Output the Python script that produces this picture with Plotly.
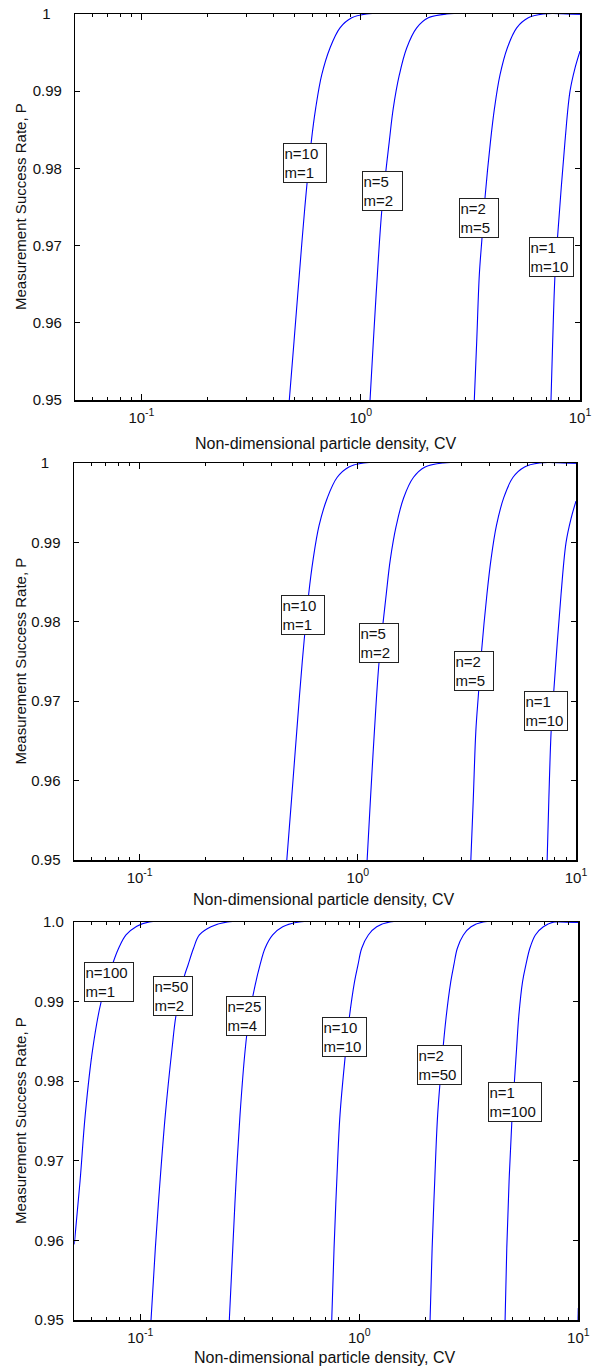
import math
import plotly.graph_objects as go

# ---------------- data ----------------
# Panels 1 and 2: n*m = 10
labels_10 = ["n=10<br>m=1", "n=5<br>m=2", "n=2<br>m=5", "n=1<br>m=10"]

cv_n10_m1 = [0.4725, 0.4966, 0.5248, 0.5560, 0.5953, 0.6234, 0.664, 0.7245, 0.8045, 0.910, 1.065, 10.0]
p_n10_m1 = [0.95, 0.9576, 0.9662, 0.9749, 0.9835, 0.9878, 0.9921, 0.9956, 0.9982, 0.9995, 1.0, 1.0]

cv_n5_m2 = [1.103, 1.142, 1.191, 1.251, 1.350, 1.408, 1.500, 1.621, 1.800, 2.034, 2.466, 10.0]
p_n5_m2 = [0.95, 0.9576, 0.9662, 0.9749, 0.9835, 0.9878, 0.9921, 0.9956, 0.9982, 0.9995, 1.0, 1.0]

cv_n2_m5 = [3.296, 3.381, 3.474, 3.574, 3.688, 3.907, 4.075, 4.317, 4.661, 5.145, 5.810, 6.802, 10.0]
p_n2_m5 = [0.95, 0.9576, 0.9662, 0.971, 0.9762, 0.9835, 0.9878, 0.9921, 0.9956, 0.9982, 0.9995, 1.0, 1.0]

cv_n1_m10 = [7.375, 7.507, 7.691, 7.896, 8.542, 9.004, 9.489, 10.0]
p_n1_m10 = [0.95, 0.9576, 0.9662, 0.971, 0.9835, 0.99, 0.993, 0.9952]

# Panel 3: n*m = 100
labels_100 = ["n=100<br>m=1", "n=50<br>m=2", "n=25<br>m=4", "n=10<br>m=10", "n=2<br>m=50", "n=1<br>m=100"]

cv_n100_m1 = [0.05, 0.0531, 0.0561, 0.0607, 0.0662, 0.0754, 0.0797, 0.0861, 0.0957, 0.110, 10.0]
p_n100_m1 = [0.9595, 0.9674, 0.9758, 0.9841, 0.9899, 0.9950, 0.9967, 0.99837, 0.99941, 1.0, 1.0]

cv_n50_m2 = [0.112, 0.1172, 0.1231, 0.1302, 0.1397, 0.1457, 0.1590, 0.1653, 0.1751, 0.1862, 0.2104, 0.2507, 10.0]
p_n50_m2 = [0.95, 0.959, 0.9674, 0.9758, 0.9841, 0.9883, 0.9932, 0.9946, 0.9967, 0.99837, 0.9994, 1.0, 1.0]

cv_n25_m4 = [0.2551, 0.2645, 0.2738, 0.2855, 0.3010, 0.3138, 0.3343, 0.3523, 0.3714, 0.4025, 0.4472, 0.5325, 10.0]
p_n25_m4 = [0.95, 0.959, 0.9674, 0.9758, 0.9838, 0.9880, 0.9920, 0.9946, 0.9967, 0.99837, 0.9994, 1.0, 1.0]

cv_n10_m10 = [0.7487, 0.7671, 0.7892, 0.8168, 0.861, 0.9008, 0.9515, 0.9865, 1.026, 1.0998, 1.2013, 1.3818, 10.0]
p_n10_m10 = [0.95, 0.959, 0.9674, 0.9758, 0.9829, 0.9880, 0.9925, 0.9946, 0.9967, 0.99837, 0.9994, 1.0, 1.0]

cv_n2_m50 = [2.105, 2.151, 2.210, 2.280, 2.390, 2.491, 2.617, 2.703, 2.804, 2.988, 3.239, 3.687, 10.0]
p_n2_m50 = [0.95, 0.959, 0.9674, 0.9758, 0.9829, 0.9880, 0.9925, 0.9946, 0.9967, 0.99837, 0.9994, 1.0, 1.0]

cv_n1_m100 = [4.632, 4.715, 4.830, 4.968, 5.107, 5.227, 5.354, 5.566, 5.763, 6.010, 6.368, 6.927, 7.751, 10.0]
p_n1_m100 = [0.95, 0.959, 0.9674, 0.9747, 0.9799, 0.9841, 0.9883, 0.9925, 0.9946, 0.9967, 0.99837, 0.9994, 1.0, 1.0]

cv_edge = [9.97, 10.0]
p_edge = [0.95, 0.9515]

y_tickvals = [0.95, 0.96, 0.97, 0.98, 0.99, 1.0]
y_ticktext_a = ["0.95", "0.96", "0.97", "0.98", "0.99", "1\u2007\u2009"]
y_ticktext_b = ["0.95", "0.96", "0.97", "0.98", "0.99", "1.0"]
x_tickvals = [0.1, 1, 10]
x_ticktext = ["10<sup>-1</sup>", "10<sup>0</sup>", "10<sup>1</sup>"]
x_minor = [0.05, 0.06, 0.07, 0.08, 0.09, 0.2, 0.3, 0.4, 0.5, 0.6, 0.7, 0.8, 0.9,
           2, 3, 4, 5, 6, 7, 8, 9]

x_title = "Non-dimensional particle density, CV"
y_title = "Measurement Success Rate, P"

# ---------------- layout geometry (pixels) ----------------
W, H = 600, 1366
panels_px = [  # left, right, top, bottom
    (75.4, 580.0, 14.0, 400.0),
    (74.0, 576.0, 463.0, 860.0),
    (74.3, 578.3, 922.0, 1320.0),
]
xtitle_y_px = [443, 899, 1357]
ytitle_x_px = 20
label_boxes = [  # (left, top, width) in px
    [(283.3, 143, 44.4), (362.3, 171.3, 41), (459, 198, 40), (529.3, 236.7, 45)],
    [(280.7, 595, 43.6), (359.3, 623.3, 39.7), (454.3, 651, 39.7), (524.3, 690.7, 44)],
    [(84.3, 961.7, 50), (153.3, 976.3, 40), (226, 996, 40), (321.7, 1017.3, 45),
     (417.3, 1045, 45), (488.3, 1082.3, 54)],
]

FONT = "Liberation Sans, Arial, sans-serif"
BLUE = "#0000FF"
TXT = "#111111"

panel_curves = [
    [(cv_n10_m1, p_n10_m1), (cv_n5_m2, p_n5_m2), (cv_n2_m5, p_n2_m5), (cv_n1_m10, p_n1_m10)],
    [(cv_n10_m1, p_n10_m1), (cv_n5_m2, p_n5_m2), (cv_n2_m5, p_n2_m5), (cv_n1_m10, p_n1_m10)],
    [(cv_n100_m1, p_n100_m1), (cv_n50_m2, p_n50_m2), (cv_n25_m4, p_n25_m4),
     (cv_n10_m10, p_n10_m10), (cv_n2_m50, p_n2_m50), (cv_n1_m100, p_n1_m100),
     (cv_edge, p_edge)],
]
panel_labels = [labels_10, labels_10, labels_100]
panel_yticktext = [y_ticktext_a, y_ticktext_a, y_ticktext_b]
panel_ystandoff = [9, 9, 6]

fig = go.Figure()
annotations = []

for i, (l, r, t, b) in enumerate(panels_px):
    k = "" if i == 0 else str(i + 1)
    xa, ya = "x" + k, "y" + k
    for cv, p in panel_curves[i]:
        fig.add_trace(go.Scatter(
            x=cv, y=p, mode="lines", xaxis=xa, yaxis=ya,
            line=dict(color=BLUE, width=1.1, shape="spline", smoothing=1.0),
            hoverinfo="skip", showlegend=False, cliponaxis=True,
        ))
    xdom = [l / W, r / W]
    ydom = [1 - b / H, 1 - t / H]
    fig.layout["xaxis" + k] = dict(
        domain=xdom, anchor=ya, type="log", range=[math.log10(0.05), 1],
        showline=True, linecolor="black", linewidth=1.5, mirror="ticks",
        ticks="inside", ticklen=6, tickcolor="black", tickwidth=1,
        tickmode="array", tickvals=x_tickvals, ticktext=x_ticktext,
        tickfont=dict(family=FONT, size=15, color=TXT),
        minor=dict(tickmode="array", tickvals=x_minor, ticks="inside",
                   ticklen=3, tickcolor="black", tickwidth=1, showgrid=False),
        showgrid=False, zeroline=False, ticklabelstandoff=3,
    )
    fig.layout["yaxis" + k] = dict(
        domain=ydom, anchor=xa, range=[0.95, 1.0],
        showline=True, linecolor="black", linewidth=1.5, mirror="ticks",
        ticks="inside", ticklen=5, tickcolor="black", tickwidth=1,
        tickmode="array", tickvals=y_tickvals, ticktext=panel_yticktext[i],
        tickfont=dict(family=FONT, size=15, color=TXT),
        showgrid=False, zeroline=False, ticklabelstandoff=panel_ystandoff[i],
    )
    # axis titles
    annotations.append(dict(
        xref="paper", yref="paper", x=((l + r) / 2 - 2) / W, y=1 - xtitle_y_px[i] / H,
        text=x_title, showarrow=False, xanchor="center", yanchor="middle",
        font=dict(family=FONT, size=16, color=TXT),
    ))
    annotations.append(dict(
        xref="paper", yref="paper", x=ytitle_x_px / W, y=1 - (t + b) / 2 / H,
        text=y_title, showarrow=False, textangle=-90, xanchor="center", yanchor="middle",
        font=dict(family=FONT, size=15, color=TXT),
    ))
    # curve labels
    for txt, (bl, bt, bw) in zip(panel_labels[i], label_boxes[i]):
        annotations.append(dict(
            xref="paper", yref="paper", x=bl / W, y=1 - bt / H,
            xanchor="left", yanchor="top", text=txt, showarrow=False,
            align="left", valign="middle", width=bw - 3, height=37,
            bgcolor="white", bordercolor="#222", borderwidth=1, borderpad=0.5,
            font=dict(family=FONT, size=15, color=TXT),
        ))

fig.update_layout(
    width=W, height=H, margin=dict(l=0, r=0, t=0, b=0, autoexpand=False),
    paper_bgcolor="white", plot_bgcolor="white", showlegend=False,
    annotations=annotations,
)

fig.write_html(
    "out.html",
    config={"displayModeBar": False, "staticPlot": True},
    post_script="document.body.style.margin='0';document.body.style.padding='0';"
                "document.documentElement.style.overflow='hidden';",
)
